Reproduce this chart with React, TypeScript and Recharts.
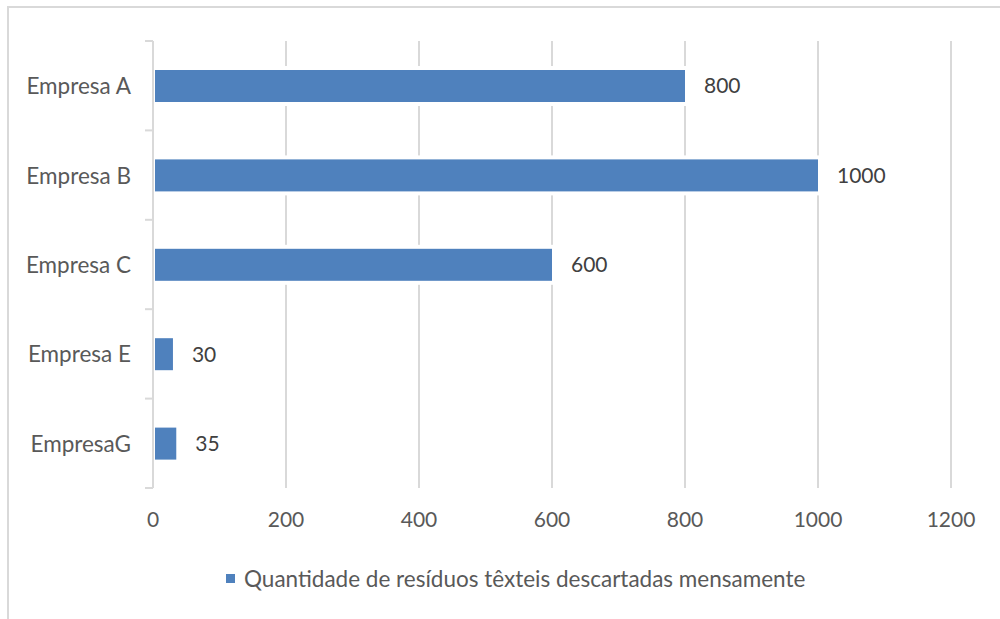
import React from 'react';
import { BarChart, Bar, XAxis, YAxis, CartesianGrid, LabelList } from 'recharts';

const empresas = ['Empresa A', 'Empresa B', 'Empresa C', 'Empresa E', 'EmpresaG'];
const residuos = [800, 1000, 600, 30, 35];
const xTicks = [0, 200, 400, 600, 800, 1000, 1200];
const serieNome = 'Quantidade de resíduos têxteis descartadas mensamente';

const data = empresas.map((nome, i) => ({ nome, valor: residuos[i] }));

const W = 1000;
const H = 619;
const xAxisH = 60;
const margin = { top: 41, right: 49, bottom: 71, left: 0 };
const axisW = 153;
const plotH = H - margin.top - margin.bottom - xAxisH;
const band = plotH / empresas.length;

const FONT = 'Lato, "Open Sans", sans-serif';
const axisColor = '#d9d9d9';
const textColor = '#595959';
const barColor = '#4f81bd';

// category label at the band centre, tick marks on the band edges
const CategoryTick = (props: any) => {
  const { x, y, payload, index } = props;
  const x0 = x + 14;
  const x1 = x + 22;
  return (
    <g>
      <text x={x} y={y} textAnchor="end" dominantBaseline="central" fill={textColor} fontSize={22.5} fontFamily={FONT}>
        {payload.value}
      </text>
      <line x1={x0} x2={x1} y1={y - band / 2} y2={y - band / 2} stroke={axisColor} strokeWidth={2} />
      {index === empresas.length - 1 && (
        <line x1={x0} x2={x1} y1={y + band / 2} y2={y + band / 2} stroke={axisColor} strokeWidth={2} />
      )}
    </g>
  );
};

// bar with a thin white halo so the gridlines stop short of it
const HaloBar = (props: any) => {
  const { x, y, width, height } = props;
  return (
    <g>
      <rect x={x} y={y - 4} width={width + 4} height={height + 8} fill="#ffffff" />
      <rect x={x + 2} y={y} width={Math.max(width - 2, 0)} height={height} fill={barColor} />
    </g>
  );
};

const App: React.FC = () => {
  return (
    <div style={{ position: 'fixed', left: 0, top: 0, width: W, height: H, background: '#fff', fontFamily: FONT, overflow: 'hidden' }}>
      {/* chart frame: only its top and left edges fall inside the view */}
      <div style={{ position: 'absolute', left: 7, top: 6, width: W, height: 2, background: '#d9d9d9' }} />
      <div style={{ position: 'absolute', left: 7, top: 6, width: 2, height: H, background: '#d9d9d9' }} />
      <div style={{ position: 'absolute', left: 0, top: 0 }}>
        <BarChart width={W} height={H} data={data} layout="vertical" margin={margin}>
          <CartesianGrid horizontal={false} stroke={axisColor} strokeWidth={2} />
          <XAxis
            type="number"
            domain={[0, 1200]}
            ticks={xTicks}
            axisLine={false}
            tickLine={false}
            tickSize={6}
            tickMargin={18}
            height={xAxisH}
            tick={{ fill: textColor, fontSize: 21, fontFamily: FONT }}
          />
          <YAxis
            type="category"
            dataKey="nome"
            width={axisW}
            axisLine={{ stroke: axisColor, strokeWidth: 2 }}
            tickLine={false}
            tickSize={8}
            tickMargin={14}
            tick={<CategoryTick />}
          />
          <Bar dataKey="valor" barSize={32} shape={<HaloBar />} isAnimationActive={false}>
            <LabelList
              dataKey="valor"
              position="right"
              offset={19}
              fill="#404040"
              fontSize={21}
              fontFamily={FONT}
            />
          </Bar>
        </BarChart>
      </div>
      <div
        style={{
          position: 'absolute',
          left: 226,
          top: 565,
          display: 'flex',
          alignItems: 'center',
          gap: 9,
          color: textColor,
          fontSize: 22.5,
          whiteSpace: 'nowrap',
        }}
      >
        <span style={{ display: 'inline-block', width: 9, height: 9, background: barColor }} />
        <span>{serieNome}</span>
      </div>
    </div>
  );
};

export default App;
